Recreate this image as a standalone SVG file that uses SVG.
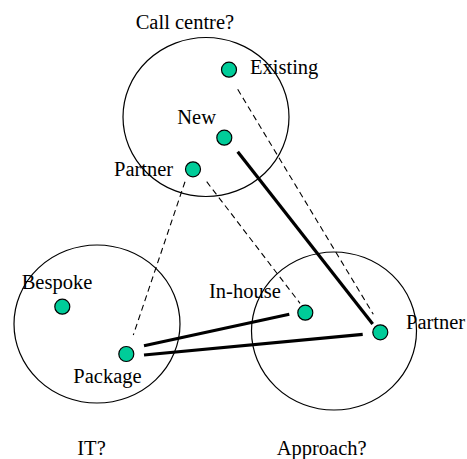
<svg xmlns="http://www.w3.org/2000/svg" width="467" height="459" viewBox="0 0 467 459">
<style>
text{font-family:"Liberation Serif","Times New Roman",serif;font-size:20.5px;fill:#000}
.grp{fill:none;stroke:#000;stroke-width:1.2}
.nd{fill:#00cc99;stroke:#000;stroke-width:1.2}
.dash{stroke:#000;stroke-width:1.1;stroke-dasharray:6,4;fill:none}
.thick{stroke:#000;stroke-width:3.2;fill:none}
</style>
<rect width="467" height="459" fill="#fff"/>
<g id="groups">
<ellipse class="grp" cx="206" cy="117" rx="83" ry="79.5"/>
<ellipse class="grp" cx="97" cy="324" rx="83" ry="79"/>
<ellipse class="grp" cx="334" cy="331" rx="82.5" ry="79"/>
</g>
<g id="connectors">
<line class="dash" x1="237.7" y1="89.3" x2="373.3" y2="314.3"/>
<line class="thick" x1="237.7" y1="151.7" x2="372.7" y2="324"/>
<line class="dash" x1="185" y1="181.7" x2="133.3" y2="335"/>
<line class="dash" x1="206.7" y1="181.7" x2="300" y2="303.3"/>
<line class="thick" x1="144" y1="345.7" x2="289.3" y2="314.3"/>
<line class="thick" x1="144" y1="355" x2="362.7" y2="334.3"/>
</g>
<g id="node-existing"><circle class="nd" cx="229" cy="69.7" r="7.5"/><text x="250" y="74">Existing</text></g>
<g id="node-new"><circle class="nd" cx="224.3" cy="137.7" r="7.5"/><text x="177.3" y="124.3">New</text></g>
<g id="node-partner-cc"><circle class="nd" cx="193" cy="169.3" r="7.5"/><text x="114" y="175.7">Partner</text></g>
<g id="node-bespoke"><circle class="nd" cx="62.3" cy="306.7" r="7.5"/><text x="21.7" y="289">Bespoke</text></g>
<g id="node-package"><circle class="nd" cx="126.3" cy="354" r="7.5"/><text x="73.3" y="383.3">Package</text></g>
<g id="node-inhouse"><circle class="nd" cx="305.3" cy="312.7" r="7.5"/><text x="209" y="298.3">In-house</text></g>
<g id="node-partner-ap"><circle class="nd" cx="380.3" cy="332.3" r="7.5"/><text x="406" y="329.3">Partner</text></g>
<g id="labels">
<text x="135.7" y="29">Call centre?</text>
<text x="77.3" y="455">IT?</text>
<text x="276.7" y="455">Approach?</text>
</g>
</svg>
